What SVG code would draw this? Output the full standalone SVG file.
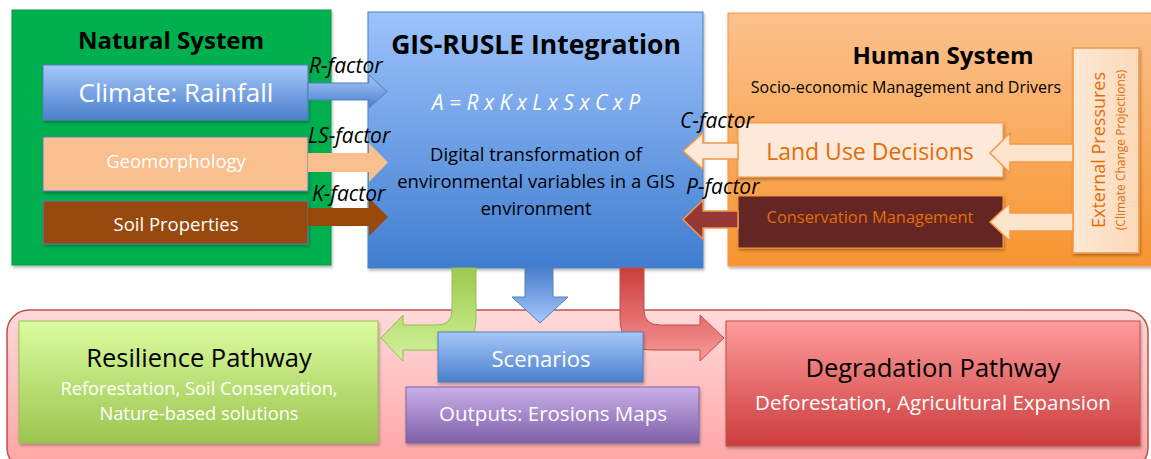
<svg xmlns="http://www.w3.org/2000/svg" width="1151" height="459" viewBox="0 0 1151 459">
<defs>
<linearGradient id="gBlue" x1="0" y1="0" x2="0" y2="1"><stop offset="0" stop-color="#A6C8FA"/><stop offset="1" stop-color="#4A7FCC"/></linearGradient>
<linearGradient id="gGis" x1="0" y1="0" x2="0" y2="1"><stop offset="0" stop-color="#9DC3FB"/><stop offset="1" stop-color="#3F7DD0"/></linearGradient>
<linearGradient id="gHuman" x1="0" y1="0" x2="0" y2="1"><stop offset="0" stop-color="#FCC18D"/><stop offset="1" stop-color="#F7952F"/></linearGradient>
<linearGradient id="gExt" x1="0" y1="0" x2="1" y2="0"><stop offset="0" stop-color="#FDE9D6"/><stop offset="1" stop-color="#FCD9B8"/></linearGradient>
<linearGradient id="gGreen" x1="0" y1="0" x2="0" y2="1"><stop offset="0" stop-color="#DCFCA0"/><stop offset="1" stop-color="#9BC54E"/></linearGradient>
<linearGradient id="gGreenArr" x1="0" y1="0" x2="0" y2="1"><stop offset="0" stop-color="#9CCA4E"/><stop offset="1" stop-color="#D2F29A"/></linearGradient>
<linearGradient id="gRed" x1="0" y1="0" x2="0" y2="1"><stop offset="0" stop-color="#FF9C9C"/><stop offset="1" stop-color="#CC3C3C"/></linearGradient>
<linearGradient id="gRedArr" x1="0" y1="0" x2="0" y2="1"><stop offset="0" stop-color="#CC3C3C"/><stop offset="1" stop-color="#F89A98"/></linearGradient>
<linearGradient id="gPurple" x1="0" y1="0" x2="0" y2="1"><stop offset="0" stop-color="#CAB0EA"/><stop offset="1" stop-color="#7F60A8"/></linearGradient>
<linearGradient id="gPink" x1="0" y1="0" x2="0" y2="1"><stop offset="0" stop-color="#FFDADA"/><stop offset="1" stop-color="#FFA3A3"/></linearGradient>
<linearGradient id="gBlueArr" x1="0" y1="0" x2="0" y2="1"><stop offset="0" stop-color="#4A7FCC"/><stop offset="1" stop-color="#A6C8FA"/></linearGradient>
<filter id="sh" x="-10%" y="-10%" width="120%" height="130%"><feDropShadow dx="1" dy="2" stdDeviation="1.5" flood-color="#000" flood-opacity="0.3"/></filter>
</defs>
<style>
text{font-family:"Open Sans","Noto Sans","Liberation Sans",sans-serif}
.t{text-anchor:middle}
.b{font-weight:bold}
.w{fill:#FFFFFF}
.k{fill:#000000}
.o{fill:#E46C0A}
.f{font-style:italic;font-size:21px;fill:#000}
</style>

<g id="natural-system">
<rect x="12" y="10" width="319" height="255" fill="#00B050" stroke="#00A048" filter="url(#sh)"/>
<text x="171" y="49" class="t b k" font-size="24">Natural System</text>
</g>
<g id="climate">
<rect x="43" y="65" width="265" height="55" fill="url(#gBlue)" stroke="#4F81BD" filter="url(#sh)"/>
<text x="176" y="102" class="t w" font-size="26">Climate: Rainfall</text>
</g>
<g id="geomorphology">
<rect x="43" y="137" width="265" height="54" fill="#F9BF8F" stroke="#4F81BD" filter="url(#sh)"/>
<text x="176" y="168" class="t w" font-size="18.5">Geomorphology</text>
</g>
<g id="soil">
<rect x="43" y="201" width="265" height="43" fill="#984807" stroke="#4F81BD" filter="url(#sh)"/>
<text x="176" y="231" class="t w" font-size="18.5">Soil Properties</text>
</g>

<g id="gis-rusle">
<rect x="368" y="12" width="335" height="256" fill="url(#gGis)" stroke="#4F81BD" filter="url(#sh)"/>
<text x="536" y="54" class="t b k" font-size="26.5">GIS-RUSLE Integration</text>
<text x="536" y="110" class="t w" font-size="21" font-style="italic">A = R x K x L x S x C x P</text>
<text x="536" y="161" class="t k" font-size="18.5">Digital transformation of</text>
<text x="536" y="188" class="t k" font-size="18.5">environmental variables in a GIS</text>
<text x="536" y="215" class="t k" font-size="18.5">environment</text>
</g>

<g id="human-system">
<rect x="728" y="13" width="430" height="253" fill="url(#gHuman)" stroke="#F79646" filter="url(#sh)"/>
<text x="943" y="64" class="t b k" font-size="24">Human System</text>
<text x="906" y="93" class="t k" font-size="16">Socio-economic Management and Drivers</text>
</g>
<g id="land-use">
<rect x="738" y="123" width="265" height="54" fill="#FDE9D9" stroke="#F79646" filter="url(#sh)"/>
<text x="870" y="160" class="t o" font-size="23">Land Use Decisions</text>
</g>
<g id="conservation">
<rect x="738" y="196" width="265" height="52" fill="#632523" stroke="#F79646" filter="url(#sh)"/>
<text x="870" y="223" class="t o" font-size="16.4">Conservation Management</text>
</g>
<g id="external-pressures">
<rect x="1073" y="48" width="66" height="205" fill="url(#gExt)" stroke="#F79646" stroke-width="1.5" filter="url(#sh)"/>
<text transform="translate(1105,150) rotate(-90)" class="t o" font-size="18">External Pressures</text>
<text transform="translate(1125,150) rotate(-90)" class="t o" font-size="12">(Climate Change Projections)</text>
</g>

<g id="pathways-container">
<rect x="7" y="310" width="1141" height="160" rx="22" fill="url(#gPink)" stroke="#C0504D" stroke-width="1.5"/>
</g>

<g id="connectors">
<path d="M308,83 H369 V75 L387,91.5 L369,108 V100 H308 Z" fill="url(#gBlue)" stroke="#4F81BD"/>
<text x="309" y="73" class="f">R-factor</text>
<path d="M308,153 H369 V143 L388,162.5 L369,182 V172 H308 Z" fill="#F9BF8F"/>
<text x="308" y="143" class="f">LS-factor</text>
<path d="M308,208 H369 V198 L388,217 L369,236 V226 H308 Z" fill="#984807"/>
<text x="312" y="201" class="f">K-factor</text>

<path d="M738,143 H703 V133 L683,151 L703,169 V159 H738 Z" fill="#FDE9D9" stroke="#F79646" stroke-width="1.5"/>
<text x="680" y="128" class="f">C-factor</text>
<path d="M738,211 H703 V200 L683,219.5 L703,239 V228 H738 Z" fill="#953735" stroke="#F79646" stroke-width="1.5"/>
<text x="686" y="194" class="f">P-factor</text>

<path d="M1073,144 H1010 V133 L990,153 L1010,173 V162 H1073 Z" fill="#FDE4CC" stroke="#F79646" stroke-width="1.5"/>
<path d="M1073,213 H1010 V203 L990,222 L1010,241 V231 H1073 Z" fill="#FDE4CC" stroke="#F79646" stroke-width="1.5"/>

<path d="M525,268 H553 V297 H568 L540,323 L512,297 H525 Z" fill="url(#gBlueArr)" stroke="#4F81BD"/>
<path d="M452,268 H476 V318 Q476,350 444,350 H403 V361 L381,338 L403,315 V325 H437 Q452,325 452,310 Z" fill="url(#gGreenArr)" stroke="#9BBB59"/>
<path d="M620,268 H644 V310 Q644,325 660,325 H700 V315 L724,338 L700,361 V350 H652 Q620,350 620,318 Z" fill="url(#gRedArr)" stroke="#C0504D"/>
</g>

<g id="resilience">
<rect x="19" y="321" width="359" height="122" fill="url(#gGreen)" stroke="#9BBB59" filter="url(#sh)"/>
<text x="199" y="367" class="t k" font-size="25.5">Resilience Pathway</text>
<text x="199" y="395" class="t w" font-size="18.3">Reforestation, Soil Conservation,</text>
<text x="199" y="420" class="t w" font-size="18.3">Nature-based solutions</text>
</g>
<g id="scenarios">
<rect x="438" y="332" width="205" height="50" fill="url(#gBlue)" stroke="#4F81BD" filter="url(#sh)"/>
<text x="541" y="367" class="t w" font-size="22">Scenarios</text>
</g>
<g id="outputs">
<rect x="406" y="387" width="293" height="56" fill="url(#gPurple)" stroke="#8064A2" filter="url(#sh)"/>
<text x="553" y="421" class="t w" font-size="20.5">Outputs: Erosions Maps</text>
</g>
<g id="degradation">
<rect x="726" y="321" width="414" height="125" fill="url(#gRed)" stroke="#C0504D" filter="url(#sh)"/>
<text x="933" y="377" class="t k" font-size="25.5">Degradation Pathway</text>
<text x="933" y="410" class="t w" font-size="20.5">Deforestation, Agricultural Expansion</text>
</g>
</svg>
